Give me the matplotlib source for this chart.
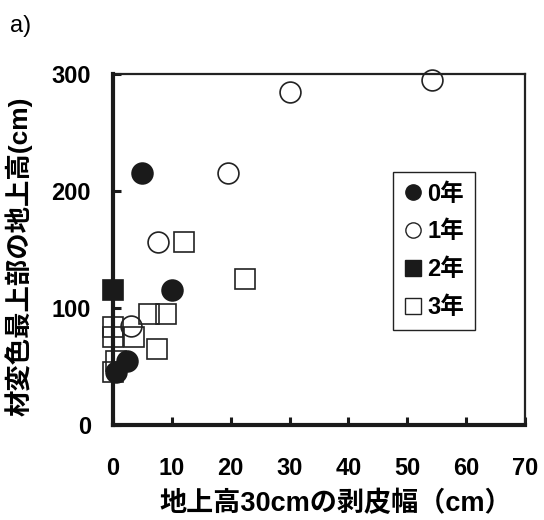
import matplotlib
matplotlib.use("Agg")
import matplotlib.pyplot as plt
from matplotlib.lines import Line2D

plt.rcParams['font.family'] = ['Liberation Sans', 'Noto Sans CJK JP', 'DejaVu Sans']

# Peeled width at 30 cm height (cm) vs. height of top of discoloured wood (cm)
year0_x = [5.0, 10.0, 2.4, 0.5]
year0_y = [215, 115, 55, 45]

year1_x = [7.7, 19.6, 3.0, 30.0, 54.2]
year1_y = [156, 215, 85, 285, 295]

year2_x = [0.0]
year2_y = [115]

year3_x = [12.1, 22.5, 6.2, 9.0, 0.0, 0.0, 3.6, 7.4, 0.5, 0.0]
year3_y = [156, 125, 95, 95, 84, 75, 75, 65, 55, 45]

series_labels = ['0年', '1年', '2年', '3年']
x_ticks = [0, 10, 20, 30, 40, 50, 60, 70]
y_ticks = [0, 100, 200, 300]

fig = plt.figure(figsize=(5.44, 5.20), dpi=100)
ax = fig.add_axes([113 / 544, 1 - 425 / 520, 412 / 544, 351 / 520])

ms = 15
mew = 1.2
ax.plot(year3_x, year3_y, 's', ms=ms, mfc='none', mec='#222222', mew=mew,
        clip_on=False, zorder=3)
ax.plot(year1_x, year1_y, 'o', ms=ms, mfc='none', mec='#222222', mew=mew,
        clip_on=False, zorder=4)
ax.plot(year2_x, year2_y, 's', ms=ms, mfc='#1a1a1a', mec='#1a1a1a', mew=mew,
        clip_on=False, zorder=5)
ax.plot(year0_x, year0_y, 'o', ms=ms, mfc='#1a1a1a', mec='#1a1a1a', mew=mew,
        clip_on=False, zorder=5)

ax.set_xlim(0, 70)
ax.set_ylim(0, 300)
ax.set_xticks(x_ticks)
ax.set_yticks(y_ticks)
ax.set_xticklabels([str(v) for v in x_ticks], fontweight='bold', fontsize=17)
ax.set_yticklabels([str(v) for v in y_ticks], fontweight='bold', fontsize=17)
ax.tick_params(axis='x', direction='in', length=6, width=2.2, pad=23, color='#1a1a1a')
ax.tick_params(axis='y', direction='in', length=6, width=2.2, pad=16, color='#1a1a1a')

for side in ['left', 'bottom']:
    ax.spines[side].set_linewidth(3.0)
    ax.spines[side].set_color('#1a1a1a')
    ax.spines[side].set_zorder(6)
for side in ['top', 'right']:
    ax.spines[side].set_linewidth(1.6)
    ax.spines[side].set_color('#222222')

ax.set_xlabel('地上高30cmの剥皮幅（cm）', fontweight='bold', fontsize=19.5, va='center')
ax.xaxis.set_label_coords(0.541, -0.225)
ax.set_ylabel('材変色最上部の地上高(cm)', fontweight='bold', fontsize=19, va='center')
ax.yaxis.set_label_coords(-0.228, 0.48)

fig.text(10 / 544, 1 - 26 / 520, 'a)', fontsize=17, va='center', ha='left')

handles = [
    Line2D([], [], ls='none', marker='o', ms=11, mfc='#1a1a1a', mec='#1a1a1a'),
    Line2D([], [], ls='none', marker='o', ms=11, mfc='none', mec='#222222', mew=1.0),
    Line2D([], [], ls='none', marker='s', ms=11, mfc='#1a1a1a', mec='#1a1a1a'),
    Line2D([], [], ls='none', marker='s', ms=11, mfc='none', mec='#222222', mew=1.0),
]
leg = fig.legend(handles, series_labels, loc='upper left',
                 bbox_to_anchor=(393 / 544, 1 - 172 / 520),
                 prop={'weight': 'bold', 'size': 17},
                 frameon=True, fancybox=False, framealpha=1,
                 edgecolor='#222222', borderpad=0.45, labelspacing=0.63,
                 handlelength=0.8, handletextpad=0.2, borderaxespad=0)
leg.get_frame().set_linewidth(1.0)

fig.savefig('out.png', dpi=100)
